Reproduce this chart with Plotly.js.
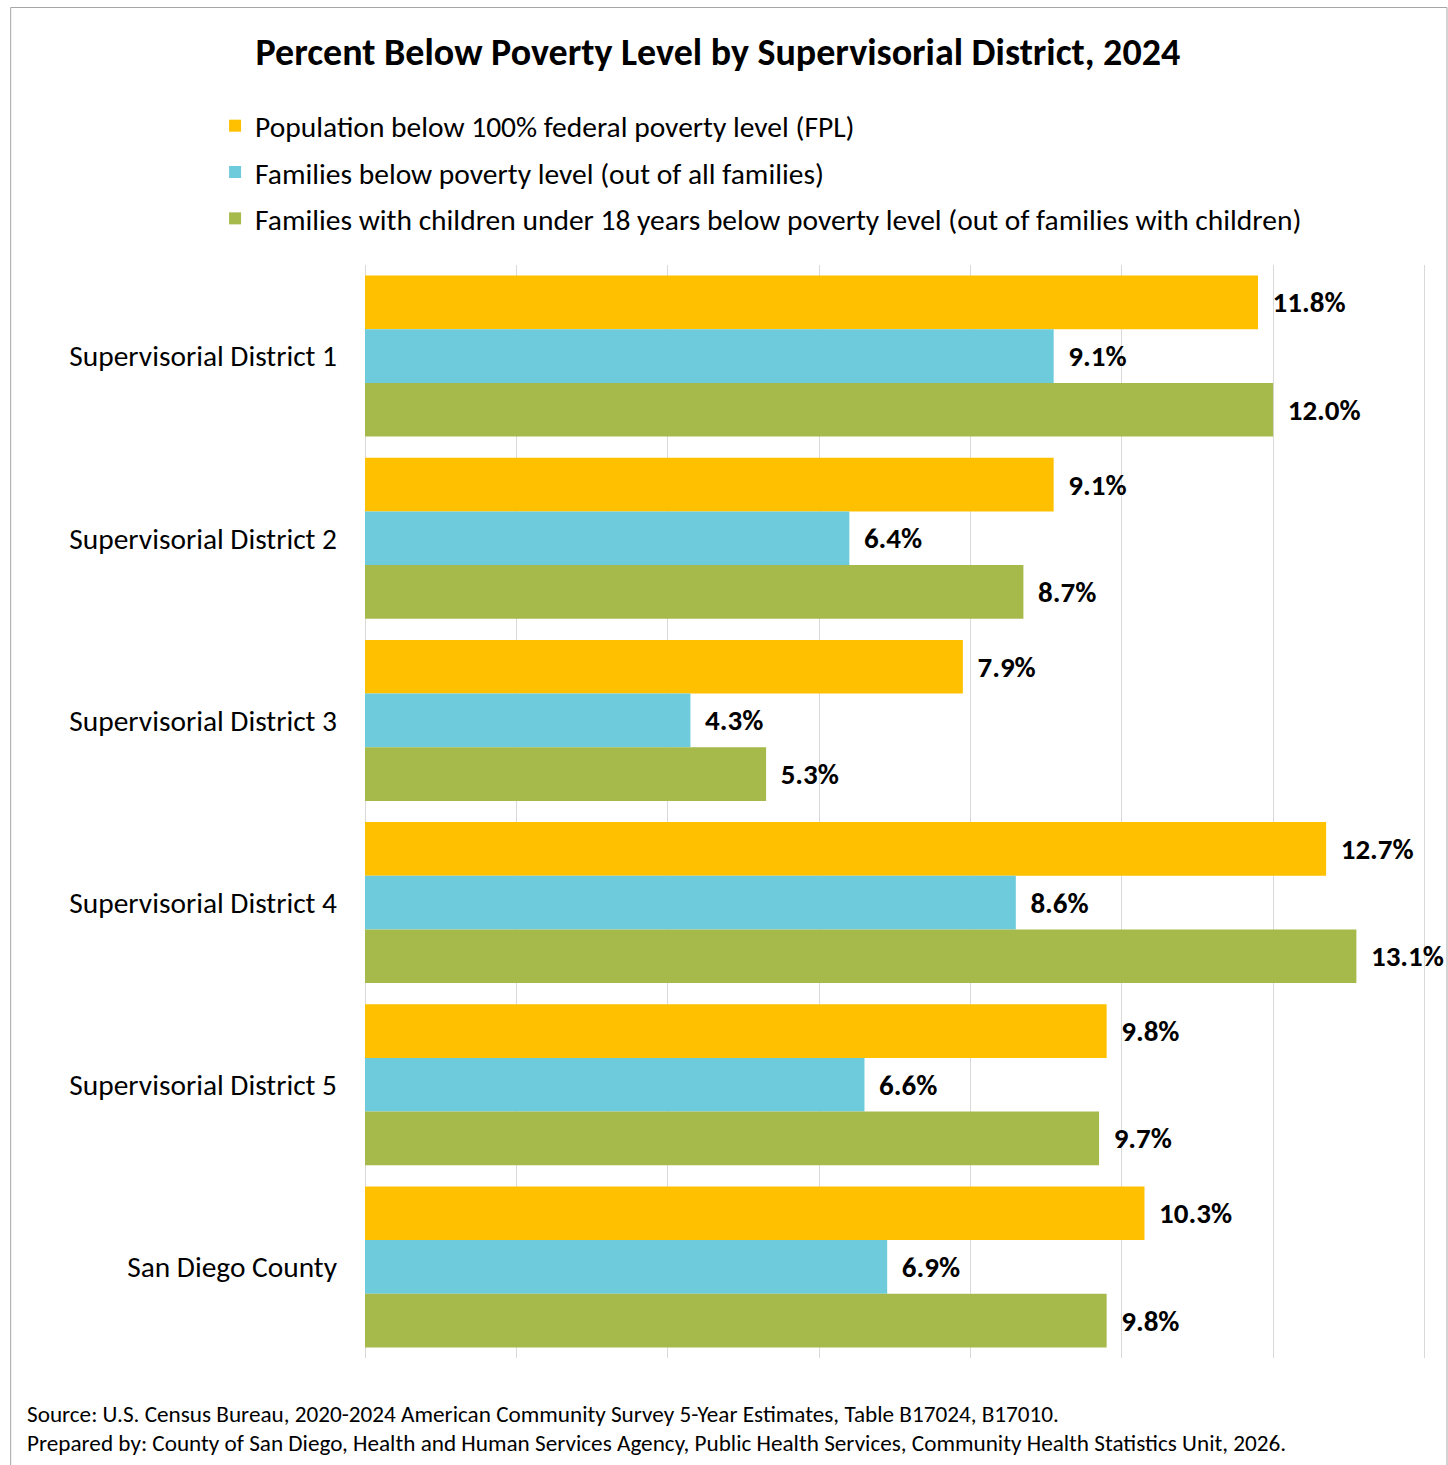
<!DOCTYPE html>
<html>
<head>
<meta charset="utf-8">
<script src="https://cdn.plot.ly/plotly-3.0.1.min.js"></script>
<style>
html,body{margin:0;padding:0;background:#fff;}
#chart{width:1448px;height:1465px;}
</style>
</head>
<body>
<div id="chart"></div>
<script>
const categories = ["Supervisorial District 1","Supervisorial District 2","Supervisorial District 3","Supervisorial District 4","Supervisorial District 5","San Diego County"];
const seriesNames = ["Population below 100% federal poverty level (FPL)","Families below poverty level (out of all families)","Families with children under 18 years below poverty level (out of families with children)"];
const populationFPL = [11.8, 9.1, 7.9, 12.7, 9.8, 10.3];
const familiesBelow = [9.1, 6.4, 4.3, 8.6, 6.6, 6.9];
const familiesWithChildren = [12.0, 8.7, 5.3, 13.1, 9.7, 9.8];
const seriesColors = ["#FFC000", "#6DCBDC", "#A6B94B"];
const titleText = "Percent Below Poverty Level by Supervisorial District, 2024";
const sourceLine1 = "Source: U.S. Census Bureau, 2020-2024 American Community Survey 5-Year Estimates, Table B17024, B17010.";
const sourceLine2 = "Prepared by: County of San Diego, Health and Human Services Agency, Public Health Services, Community Health Statistics Unit, 2026.";

const FONT = "Carlito, Calibri, Lato, 'Open Sans', sans-serif";
const W = 1448, H = 1465;
const M = {l: 365, r: 21.5, t: 265, b: 107};
const pw = W - M.l - M.r, ph = H - M.t - M.b;
const px = x => (x - M.l) / pw;
const py = y => (H - M.b - y) / ph;

const seriesValues = [populationFPL, familiesBelow, familiesWithChildren];
const traces = seriesValues.map((vals, i) => ({
  type: "bar",
  orientation: "h",
  name: seriesNames[i],
  legendgroup: "g" + i,
  x: vals,
  y: categories,
  marker: {color: seriesColors[i], line: {width: 0}},
  text: vals.map(v => "\u2009\u2009" + v.toFixed(1) + "%"),
  textposition: "outside",
  textfont: {family: FONT, size: 29, color: "#000", weight: "bold"},
  constraintext: "none",
  cliponaxis: false,
  hoverinfo: "x+y"
}));

const layout = {
  width: W, height: H,
  margin: M,
  paper_bgcolor: "#fff",
  plot_bgcolor: "#fff",
  font: {family: FONT, color: "#000"},
  barmode: "group",
  bargap: 0.116,
  bargroupgap: 0,
  title: {text: "<b>" + titleText + "</b>", font: {family: FONT, size: 38, color: "#000"}, x: px(718), xref: "paper", xanchor: "center", y: 1 - 52 / H, yanchor: "middle"},
  showlegend: true,
  legend: {
    orientation: "v",
    x: px(215), xanchor: "left",
    y: py(100), yanchor: "top",
    font: {family: FONT, size: 29.5, color: "#000"},
    tracegroupgap: 5,
    itemwidth: 30,
    bgcolor: "rgba(0,0,0,0)"
  },
  xaxis: {
    range: [0, 14.02],
    dtick: 2,
    tick0: 0,
    showticklabels: false,
    showgrid: true,
    gridcolor: "#D9D9D9",
    gridwidth: 1,
    zeroline: true,
    zerolinecolor: "#D9D9D9",
    zerolinewidth: 1,
    showline: false,
    fixedrange: true
  },
  yaxis: {
    autorange: "reversed",
    type: "category",
    showgrid: false,
    zeroline: false,
    showline: false,
    ticks: "",
    ticklabelstandoff: 27,
    tickfont: {family: FONT, size: 29.4, color: "#000"},
    fixedrange: true
  },
  shapes: [{
    type: "rect", xref: "paper", yref: "paper",
    x0: px(10.5), x1: px(1447.5), y0: py(1480), y1: py(7.5),
    line: {color: "#A6A6A6", width: 1}, fillcolor: "rgba(0,0,0,0)", layer: "below"
  }],
  annotations: [
    {text: sourceLine1, xref: "paper", yref: "paper", x: px(25), y: py(1414), xanchor: "left", yanchor: "middle", showarrow: false, font: {family: FONT, size: 23.2, color: "#000"}},
    {text: sourceLine2, xref: "paper", yref: "paper", x: px(25), y: py(1443), xanchor: "left", yanchor: "middle", showarrow: false, font: {family: FONT, size: 23.2, color: "#000"}}
  ]
};

Plotly.newPlot("chart", traces, layout, {displayModeBar: false, staticPlot: true});
</script>
</body>
</html>
